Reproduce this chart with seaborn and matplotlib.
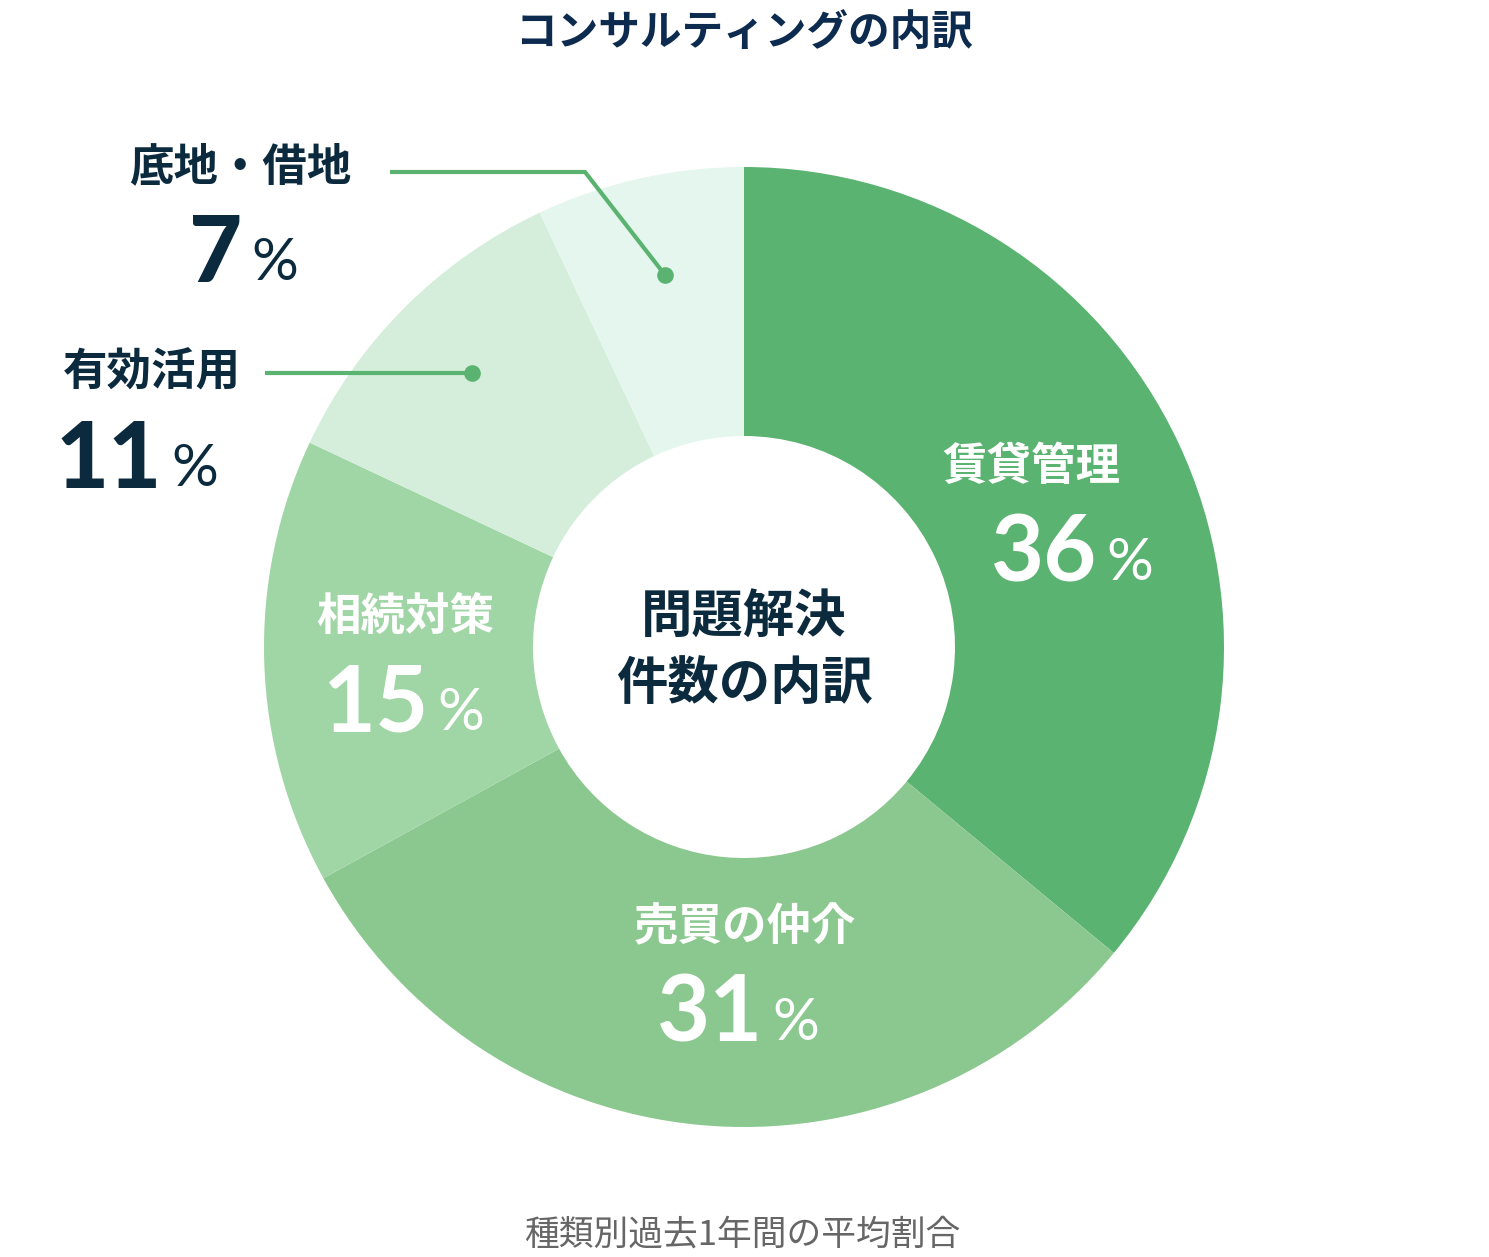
import matplotlib
matplotlib.use('Agg')
import matplotlib.pyplot as plt
import seaborn as sns

# データ
labels = ['賃貸管理', '売買の仲介', '相続対策', '有効活用', '底地・借地']
values = [36, 31, 15, 11, 7]
colors = ['#5ab370', '#8bc88f', '#a0d5a5', '#d5eedb', '#e4f6ee']
title = 'コンサルティングの内訳'
center_lines = ['問題解決', '件数の内訳']
note = '種類別過去1年間の平均割合'

sns.set_theme(style='white')
plt.rcParams['font.family'] = ['Noto Sans CJK JP', 'DejaVu Sans']

W, H = 1489, 1257
fig = plt.figure(figsize=(W / 100, H / 100), dpi=100)
ax = fig.add_axes([0, 0, 1, 1])


def Y(y):
    return H - y


# ドーナツ
cx, cy = 744, 647
r_out, r_in = 480, 211
ax.pie(values, colors=colors, startangle=90, counterclock=False,
       center=(cx, Y(cy)), radius=r_out,
       wedgeprops=dict(width=r_out - r_in, linewidth=0))
ax.set_xlim(0, W)
ax.set_ylim(0, H)
ax.set_aspect('equal')
ax.axis('off')

navy = '#0b2a3d'
green = '#5ab370'
num_font = ['Lato', 'DejaVu Sans']


def label(x, y, name, val, color, num_right, name_size=32, num_size=66,
          pct_size=42, num_weight='bold'):
    ax.text(x, Y(y), name, ha='center', va='center', fontsize=name_size,
            color=color, fontweight='bold')
    yb = y + 115
    ax.text(num_right, Y(yb), str(val), ha='right', va='baseline',
            fontsize=num_size, color=color, fontweight=num_weight,
            family=num_font)
    ax.text(num_right + 9, Y(yb - 2), '%', ha='left', va='baseline',
            fontsize=pct_size, color=color, fontweight='normal',
            family=num_font)


# ラベル（内側）
label(1031, 467, labels[0], values[0], 'white', 1097)
label(745, 927, labels[1], values[1], 'white', 763)
label(405, 617, labels[2], values[2], 'white', 428)

# ラベル（外側）
label(240, 167, labels[4], values[4], navy, 242, num_weight='black')
label(152, 373, labels[3], values[3], navy, 162, num_weight='black')

# 引き出し線
ax.plot([390, 585, 665], [Y(172), Y(172), Y(275)], color=green, lw=3,
        solid_capstyle='butt', solid_joinstyle='miter')
ax.plot([665], [Y(275)], 'o', color=green, ms=12, mec='none')
ax.plot([265, 472], [Y(373), Y(373)], color=green, lw=3,
        solid_capstyle='butt')
ax.plot([472], [Y(373)], 'o', color=green, ms=12, mec='none')

# 中央テキスト
ax.text(cx, Y(617), center_lines[0], ha='center', va='center', fontsize=37,
        color=navy, fontweight='bold')
ax.text(cx, Y(683), center_lines[1], ha='center', va='center', fontsize=37,
        color=navy, fontweight='bold')

# タイトルと注記
ax.text(cx, Y(33), title, ha='center', va='center', fontsize=30,
        color='#0d2a4f', fontweight='bold')
ax.text(742, Y(1235), note, ha='center', va='center', fontsize=25,
        color='#666666')

fig.savefig('out.png', dpi=100, facecolor='white')
